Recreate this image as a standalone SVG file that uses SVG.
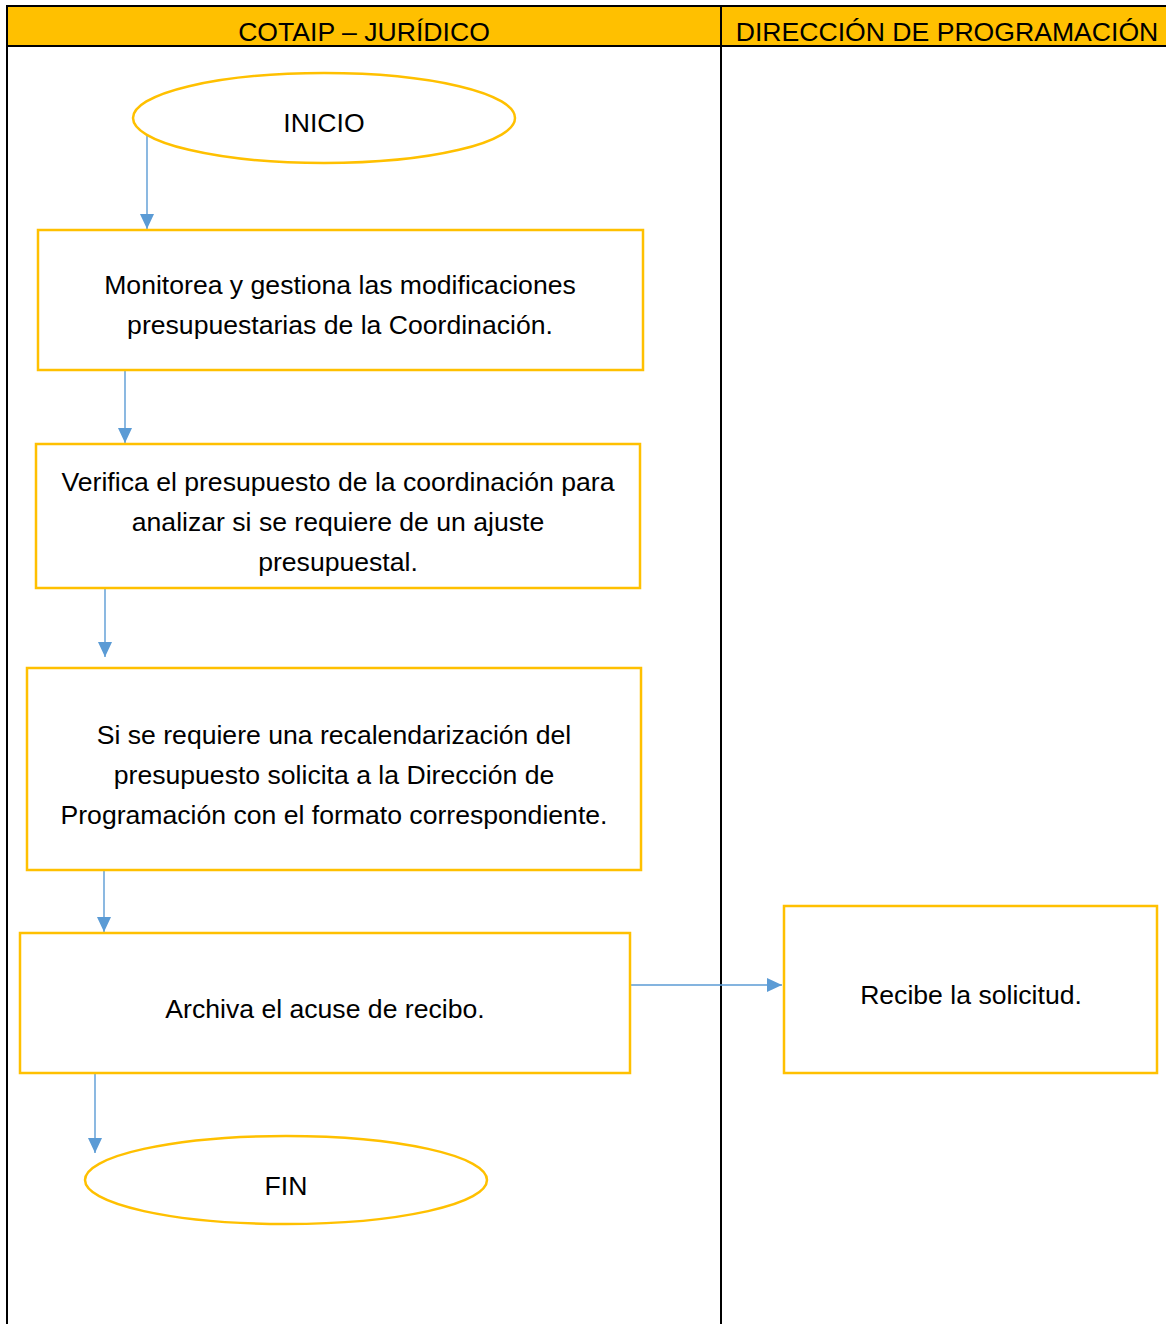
<svg xmlns="http://www.w3.org/2000/svg" width="1166" height="1324" viewBox="0 0 1166 1324">
<style>
.lane{stroke:#000;stroke-width:2;fill:none}
.hdr{fill:#FFC000}
.box{fill:#fff;stroke:#FFC000;stroke-width:2.5}
.t{font-family:"Liberation Sans",Arial,sans-serif;font-size:26.6px;fill:#000;text-anchor:middle}
.c{stroke:#5B9BD5;stroke-width:1.4;fill:none;marker-end:url(#ah)}
</style>
<defs>
<marker id="ah" markerWidth="15" markerHeight="14" refX="15" refY="7" orient="auto" markerUnits="userSpaceOnUse">
<path d="M0,0 L15,7 L0,14 Z" fill="#5B9BD5"/>
</marker>
</defs>
<rect width="1166" height="1324" fill="#fff"/>
<g id="lanes">
<rect class="hdr" x="7" y="6" width="1159" height="40"/>
<line class="lane" x1="7" y1="6" x2="1166" y2="6"/>
<line class="lane" x1="7" y1="46" x2="1166" y2="46"/>
<line class="lane" x1="7" y1="5" x2="7" y2="1324"/>
<line class="lane" x1="721" y1="5" x2="721" y2="1324"/>
<text class="t" x="364" y="41">COTAIP – JURÍDICO</text>
<text class="t" x="947" y="41">DIRECCIÓN DE PROGRAMACIÓN</text>
</g>
<g id="connectors">
<line class="c" x1="147" y1="132" x2="147" y2="229"/>
<line class="c" x1="125" y1="370" x2="125" y2="443"/>
<line class="c" x1="105" y1="588" x2="105" y2="657"/>
<line class="c" x1="104" y1="870" x2="104" y2="932"/>
<line class="c" x1="629" y1="985" x2="782" y2="985"/>
<line class="c" x1="95" y1="1073" x2="95" y2="1153"/>
</g>
<g id="inicio">
<ellipse class="box" cx="324" cy="118" rx="191" ry="45"/>
<text class="t" x="324" y="132">INICIO</text>
</g>
<g id="n1">
<rect class="box" x="38" y="230" width="605" height="140"/>
<text class="t" x="340" y="294">Monitorea y gestiona las modificaciones</text>
<text class="t" x="340" y="334">presupuestarias de la Coordinación.</text>
</g>
<g id="n2">
<rect class="box" x="36" y="444" width="604" height="144"/>
<text class="t" x="338" y="491">Verifica el presupuesto de la coordinación para</text>
<text class="t" x="338" y="531">analizar si se requiere de un ajuste</text>
<text class="t" x="338" y="571">presupuestal.</text>
</g>
<g id="n3">
<rect class="box" x="27" y="668" width="614" height="202"/>
<text class="t" x="334" y="744">Si se requiere una recalendarización del</text>
<text class="t" x="334" y="784">presupuesto solicita a la Dirección de</text>
<text class="t" x="334" y="824">Programación con el formato correspondiente.</text>
</g>
<g id="n4">
<rect class="box" x="20" y="933" width="610" height="140"/>
<text class="t" x="325" y="1018">Archiva el acuse de recibo.</text>
</g>
<g id="n5">
<rect class="box" x="784" y="906" width="373" height="167"/>
<text class="t" x="971" y="1004">Recibe la solicitud.</text>
</g>
<g id="fin">
<ellipse class="box" cx="286" cy="1180" rx="201" ry="44"/>
<text class="t" x="286" y="1195">FIN</text>
</g>
</svg>
